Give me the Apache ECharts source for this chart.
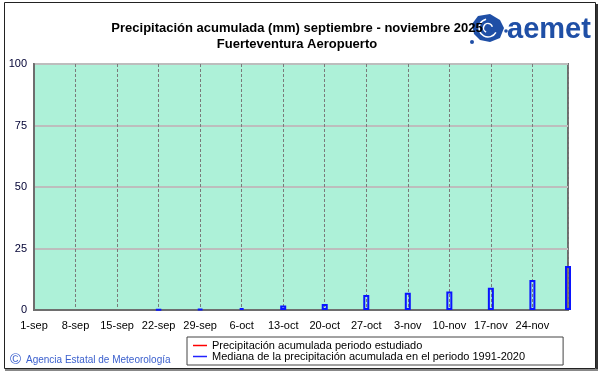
<!DOCTYPE html>
<html><head><meta charset="utf-8">
<script src="https://cdn.jsdelivr.net/npm/echarts@6/dist/echarts.min.js"></script>
<style>html,body{margin:0;padding:0;background:#fff}#c{width:601px;height:374px}</style>
</head><body><div id="c"></div>
<script>
var tickLabels = ['1-sep','8-sep','15-sep','22-sep','29-sep','6-oct','13-oct','20-oct','27-oct','3-nov','10-nov','17-nov','24-nov'];
var barDays = [21, 28, 35, 42, 49, 56, 63, 70, 77, 84, 90];
var medianValues = [0.2, 0.5, 0.8, 1.8, 2.4, 6.1, 7.0, 7.5, 9.0, 12.2, 17.9];
var studiedValues = [];
var seriesNames = ['Precipitación acumulada periodo estudiado', 'Mediana de la precipitación acumulada en el periodo 1991-2020'];

var chart = echarts.init(document.getElementById('c'), null, {renderer: 'canvas'});
var barData = barDays.map(function (d, i) { return [d, medianValues[i]]; });
var font = '"Liberation Sans", Arial, sans-serif';

chart.setOption({
  animation: false,
  textStyle: {fontFamily: font},
  grid: {left: 34, right: 33, top: 64, bottom: 64, show: true, backgroundColor: '#adf1d8', borderColor: '#6e6e6e', borderWidth: 2},
  xAxis: {
    type: 'value', min: 0, max: 90, interval: 7,
    axisLine: {show: true, lineStyle: {color: '#6e6e6e', width: 2}},
    axisTick: {show: false},
    axisLabel: {showMaxLabel: false, color: '#000', fontSize: 11, margin: 10, fontFamily: font,
      formatter: function (v) { var i = Math.round(v / 7); return tickLabels[i] || ''; }},
    splitLine: {show: true, lineStyle: {color: '#7a7a7a', type: [3, 2], width: 1}}
  },
  yAxis: {
    type: 'value', min: 0, max: 100, interval: 25,
    axisLine: {show: true, lineStyle: {color: '#6e6e6e', width: 2}},
    axisTick: {show: false},
    axisLabel: {color: '#000033', fontSize: 11, margin: 7, fontFamily: font},
    splitLine: {show: true, lineStyle: {color: '#bdbdbd', width: 2}}
  },
  legend: {
    orient: 'vertical', left: 187, top: 337,
    padding: [3, 38, 3, 6], itemGap: 0, itemWidth: 14, itemHeight: 1.5,
    borderColor: '#444', borderWidth: 1, backgroundColor: '#fff',
    textStyle: {color: '#000', fontSize: 11, fontFamily: font, lineHeight: 11},
    data: [
      {name: seriesNames[0], icon: 'rect', itemStyle: {color: '#ff0000', borderWidth: 0}},
      {name: seriesNames[1], icon: 'rect', itemStyle: {color: '#2222ff', borderWidth: 0}}
    ]
  },
  series: [
    {name: seriesNames[0], type: 'line', data: studiedValues, color: '#ff0000', symbol: 'none'},
    {name: seriesNames[1], type: 'bar', data: barData, barWidth: 6, clip: false, color: '#2222ff',
      itemStyle: {color: 'rgba(0,0,0,0)', borderColor: '#0a14ff', borderWidth: 2}}
  ],
  graphic: [
    {type: 'rect', shape: {x: 4.5, y: 2.5, width: 591, height: 366}, style: {fill: 'none', stroke: '#222', lineWidth: 1}, z: 0},
    {type: 'line', shape: {x1: 597, y1: 4, x2: 597, y2: 370}, style: {stroke: '#333', lineWidth: 2}},
    {type: 'line', shape: {x1: 5, y1: 370, x2: 598, y2: 370}, style: {stroke: '#888', lineWidth: 2}},
    {type: 'text', x: 297, y: 20, style: {text: 'Precipitación acumulada (mm) septiembre - noviembre 2025\nFuerteventura Aeropuerto', fill: '#000', font: 'bold 13px ' + font, textAlign: 'center', lineHeight: 16}, z: 5},
    {type: 'group', x: 470, y: 14, z: 20, children: [
      {type: 'polygon', shape: {points: [[8,2],[20,0],[30,6],[34,14],[30,24],[20,28],[10,26],[4,20],[2,10]]}, style: {fill: '#1f4fa6'}},
      {type: 'arc', shape: {cx: 18, cy: 14, r: 9, startAngle: 0.5, endAngle: 4.5}, style: {stroke: '#fff', lineWidth: 1.5, fill: 'none'}},
      {type: 'arc', shape: {cx: 18, cy: 14, r: 4.5, startAngle: 2, endAngle: 6}, style: {stroke: '#fff', lineWidth: 1.5, fill: 'none'}},
      {type: 'circle', shape: {cx: 2, cy: 28, r: 2}, style: {fill: '#1f4fa6'}},
      {type: 'circle', shape: {cx: 36, cy: 17, r: 1.8}, style: {fill: '#1f4fa6'}}
    ]},
    {type: 'text', x: 507, y: 15, z: 20, style: {text: 'aemet', fill: '#1f4fa6', font: 'bold 29px ' + font, textAlign: 'left'}},
    {type: 'text', x: 10, y: 352, style: {text: '©', fill: '#3a5fcd', font: '15px ' + font}},
    {type: 'text', x: 26, y: 355, style: {text: 'Agencia Estatal de Meteorología', fill: '#3a5fcd', font: '10px ' + font}}
  ]
});
</script></body></html>
